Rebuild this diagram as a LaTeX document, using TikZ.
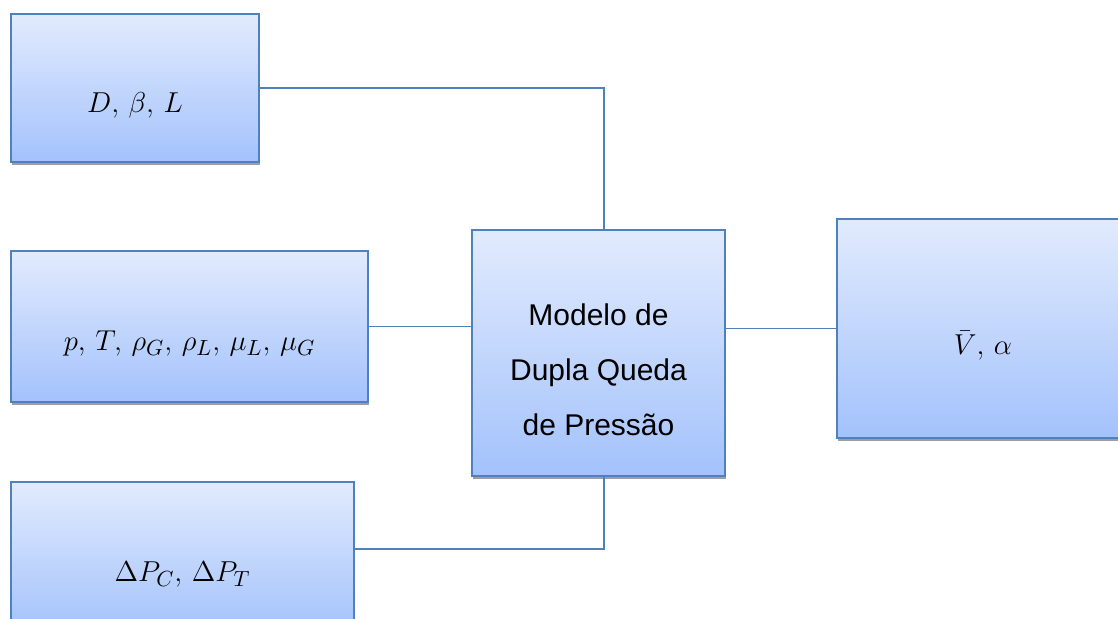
\documentclass[tikz,border=0pt]{standalone}
\usepackage{fontspec}
\newfontfamily\labelfont{Liberation Sans}
\usepackage{xcolor}
\usepackage{tikz}
\usetikzlibrary{shadows,calc}

\definecolor{boxedge}{HTML}{4F81BD}
\definecolor{boxtop}{HTML}{E2EBFD}
\definecolor{boxbottom}{HTML}{A3C2FC}

% text sits a little below the middle of each box
\newcommand{\lowered}[1]{\raisebox{-8.5pt}[\height][\depth]{#1}}

\tikzset{
  block/.style={draw=boxedge, line width=1pt, top color=boxtop, bottom color=boxbottom,
    inner sep=0pt, align=center, font=\fontsize{15}{27.5}\selectfont,
    drop shadow={shadow xshift=0.5pt, shadow yshift=-1.6pt, fill=black!38, opacity=1}},
  wire/.style={draw=boxedge, line width=0.8pt}
}

\begin{document}
\begin{tikzpicture}[x=0.5pt, y=-0.5pt]
                % page frame, boxes run off the edges
                \path[use as bounding box, clip] (0,0) rectangle (1118,619);
                % inputs
                \node[block, minimum width=124pt, minimum height=74pt] (geom) at (135,88) {\lowered{$D,\,\beta,\,L$}};
                \node[block, minimum width=178.5pt, minimum height=75.5pt] (fluid) at (189.5,326.5) {\lowered{$p,\,T,\,\rho_G,\,\rho_L,\,\mu_L,\,\mu_G$}};
                \node[block, minimum width=171.5pt, minimum height=75pt] (dp) at (182.5,557) {\lowered{$\Delta P_C,\,\Delta P_T$}};
                % model and output
                \node[block, font=\labelfont\fontsize{15}{27.5}\selectfont, minimum width=126.5pt, minimum height=123pt] (model) at (598.5,353)
                  {\lowered{\begin{tabular}{c}Modelo de\\Dupla Queda\\de Pressão\end{tabular}}};
                \node[block, minimum width=146pt, minimum height=109.5pt] (out) at (983,328.5) {\lowered{$\bar{V},\,\alpha$}};
                % connections
                \draw[wire] (geom.east) -| ([xshift=2.75pt]model.north);
                \draw[wire] (fluid.east) -- (fluid.east -| model.west);
                \draw[wire] ([yshift=4pt]dp.east) -| ([xshift=2.75pt]model.south);
                \draw[wire] (out.west -| model.east) -- (out.west);
            \end{tikzpicture}
\end{document}
